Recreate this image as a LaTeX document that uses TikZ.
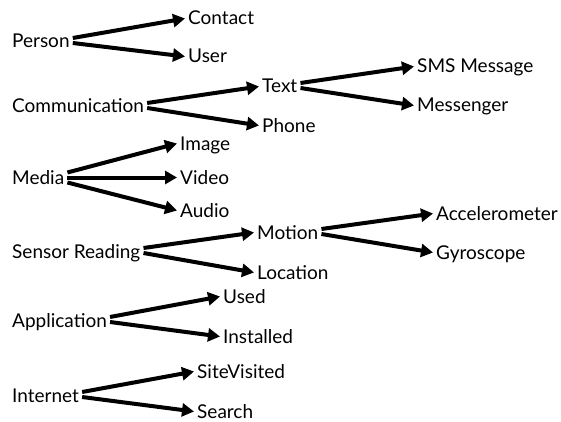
\documentclass[tikz,border=0pt]{standalone}
\usepackage{fontspec}
\setmainfont{Lato}
\usetikzlibrary{arrows.meta}

\tikzset{
  item/.style={anchor=base west,inner xsep=3pt,inner ysep=0pt,text height=13pt,text depth=0pt,font=\fontsize{19}{21}\selectfont},
  link/.style={line width=4pt,-{Triangle[length=12pt,width=13pt]}}
}

\begin{document}
\begin{tikzpicture}[x=1pt,y=-1pt]
      \useasboundingbox (0,0) rectangle (561,422);

      %% person
      \node[item] (person) at (9,48) {Person};
      \node[item] (contact) at (185,25) {Contact};
      \node[item] (user) at (185,63) {User};
      \draw[link] ([yshift=3.5pt]person.east) -- (contact.west);
      \draw[link] ([yshift=-1.5pt]person.east) -- (user.west);

      %% communication
      \node[item] (comm) at (9,113) {Communication};
      \node[item] (text) at (259,93) {Text};
      \node[item] (phone) at (259,132) {Phone};
      \node[item] (sms) at (414,73) {SMS Message};
      \node[item] (messenger) at (414,112) {Messenger};
      \draw[link] ([yshift=3.5pt]comm.east) -- (text.west);
      \draw[link] ([yshift=-1.5pt]comm.east) -- (phone.west);
      \draw[link] ([yshift=3.5pt]text.east) -- (sms.west);
      \draw[link] ([yshift=-1.5pt]text.east) -- (messenger.west);

      %% media
      \node[item] (media) at (9,184) {Media};
      \node[item] (image) at (177,150) {Image};
      \node[item] (video) at (177,184) {Video};
      \node[item] (audio) at (177,217) {Audio};
      \draw[link] ([yshift=5pt]media.east) -- (image.west);
      \draw[link] (media.east) -- (video.west);
      \draw[link] ([yshift=-5pt]media.east) -- (audio.west);

      %% sensor reading
      \node[item] (sensor) at (9,258) {Sensor Reading};
      \node[item] (motion) at (254,239) {Motion};
      \node[item] (location) at (254,279) {Location};
      \node[item] (accel) at (433,220) {Accelerometer};
      \node[item] (gyro) at (433,259) {Gyroscope};
      \draw[link] ([yshift=3.5pt]sensor.east) -- (motion.west);
      \draw[link] ([yshift=-1.5pt]sensor.east) -- (location.west);
      \draw[link] ([yshift=3.5pt]motion.east) -- (accel.west);
      \draw[link] ([yshift=-1.5pt]motion.east) -- (gyro.west);

      %% application
      \node[item] (app) at (9,327) {Application};
      \node[item] (used) at (220,303) {Used};
      \node[item] (installed) at (220,343) {Installed};
      \draw[link] ([yshift=3.5pt]app.east) -- (used.west);
      \draw[link] ([yshift=-1.5pt]app.east) -- (installed.west);

      %% internet
      \node[item] (internet) at (9,402) {Internet};
      \node[item] (site) at (194,378) {SiteVisited};
      \node[item] (search) at (194,418) {Search};
      \draw[link] ([yshift=3.5pt]internet.east) -- (site.west);
      \draw[link] ([yshift=-1.5pt]internet.east) -- (search.west);
    \end{tikzpicture}
\end{document}
